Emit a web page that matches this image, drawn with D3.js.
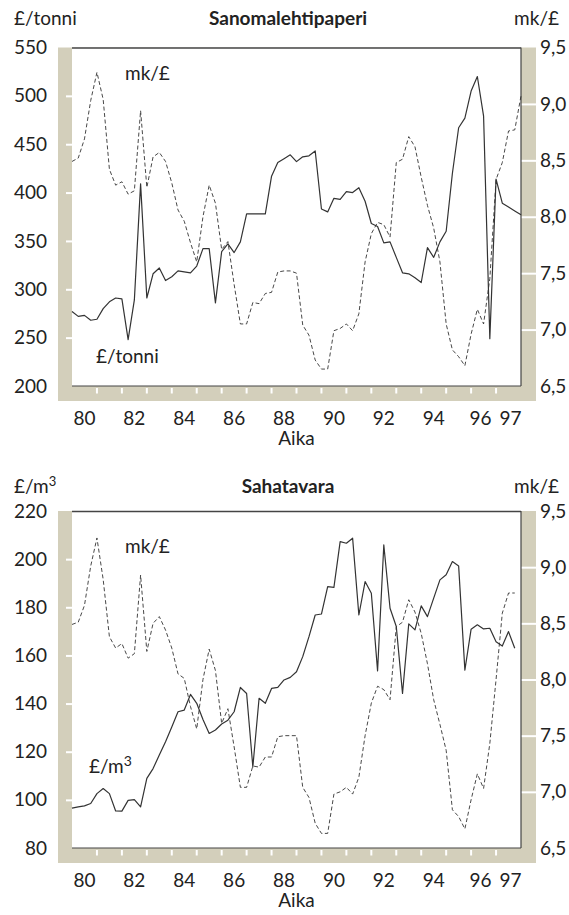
<!DOCTYPE html>
<html>
<head>
<meta charset="utf-8">
<script src="https://cdn.jsdelivr.net/npm/d3@7"></script>
<style>
body { margin: 0; background: #fff; }
svg text { font-family: Lato, "Open Sans", sans-serif; fill: #222; }
</style>
</head>
<body>
<svg id="chart" width="569" height="915"></svg>
<script>
// x tick labels (two-digit years)
var yearLabels = ["80", "82", "84", "86", "88", "90", "92", "94", "96", "97"];
var yearTicks = [1981, 1982, 1983, 1984, 1985, 1986, 1987, 1988, 1989, 1990, 1991, 1992, 1993, 1994, 1995, 1996, 1997];

var paperTicks = [200, 250, 300, 350, 400, 450, 500, 550];
var lumberTicks = [80, 100, 120, 140, 160, 180, 200, 220];
var rateTicks = [6.5, 7.0, 7.5, 8.0, 8.5, 9.0, 9.5];

// quarterly values, 1980 Q1 ->
var paperPrice = [277, 272, 273, 268, 269, 280, 287, 291, 290, 248,
    289, 409, 291, 316, 322, 309, 313, 319, 318, 317,
    324, 342, 342, 286, 339, 347, 338, 349, 378, 378,
    378, 378, 417, 431, 435, 439, 432, 437, 438, 443,
    383, 380, 394, 393, 401, 400, 405, 391, 368, 365,
    348, 349, 333, 317, 316, 312, 307, 343, 333, 349,
    360, 420, 467, 477, 505, 520, 479, 249, 414, 389,
    385, 381, 377];

var paperRate = [8.49, 8.52, 8.69, 9.03, 9.28, 9.04, 8.42, 8.28, 8.31, 8.20,
    8.23, 8.94, 8.26, 8.53, 8.57, 8.49, 8.30, 8.06, 7.96, 7.77,
    7.60, 8.00, 8.28, 8.12, 7.71, 7.78, 7.40, 7.05, 7.05, 7.24,
    7.23, 7.32, 7.33, 7.51, 7.52, 7.52, 7.50, 7.04, 6.95, 6.73,
    6.65, 6.65, 6.99, 7.01, 7.05, 6.99, 7.14, 7.60, 7.85, 7.95,
    7.93, 7.82, 8.48, 8.51, 8.71, 8.62, 8.35, 8.10, 7.90, 7.60,
    7.05, 6.82, 6.76, 6.68, 6.96, 7.18, 7.05, 7.45, 8.33, 8.48,
    8.76, 8.77, 9.07];

var lumberPrice = [96.6, 97.1, 97.5, 98.5, 102.6, 104.7, 102.6, 95.4, 95.3, 99.8,
    100.1, 97.1, 108.9, 113, 118.6, 124.1, 130.3, 136.6, 137.3, 143.8,
    140.1, 133.4, 127.6, 129, 131.5, 133.1, 136.6, 146.7, 144.2, 113.7,
    142.2, 140.1, 146.3, 146.7, 149.8, 150.9, 153.2, 159.5, 167.8, 176.8,
    177.2, 188.6, 188.3, 207.3, 206.6, 208.7, 176.8, 190.7, 185.8, 153.6,
    205.9, 179.6, 172, 144.2, 173.1, 170.6, 180.6, 176.1, 183.8, 191.4,
    193.5, 199, 197.2, 153.9, 170.9, 172.7, 171, 171.3, 165.7, 163.9,
    169.9, 163];

var lumberRate = [8.49, 8.51, 8.66, 9.01, 9.26, 8.89, 8.38, 8.28, 8.32, 8.19,
    8.23, 8.93, 8.25, 8.50, 8.56, 8.44, 8.28, 8.05, 8.01, 7.76,
    7.56, 8.00, 8.27, 8.08, 7.61, 7.74, 7.40, 7.04, 7.04, 7.23,
    7.22, 7.31, 7.31, 7.49, 7.50, 7.50, 7.50, 7.04, 6.95, 6.72,
    6.63, 6.63, 6.98, 7.00, 7.04, 6.98, 7.13, 7.50, 7.79, 7.94,
    7.91, 7.82, 8.47, 8.51, 8.71, 8.60, 8.41, 8.14, 7.82, 7.60,
    7.37, 6.84, 6.78, 6.67, 6.93, 7.16, 7.03, 7.43, 8.00, 8.59,
    8.77, 8.77];

var beige = "#d3cfbb";
var ink = "#333";
var fs = 19;
var frameLeft = 58, frameRight = 536;

var svg = d3.select("#chart");
var x = d3.scaleLinear().domain([1980, 1998]).range([72, 521]);
var comma = d3.formatLocale({decimal: ",", thousands: " ", grouping: [3], currency: ["", ""]}).format(".1f");
// the last two year labels sit a little apart in the original
var labelNudge = {"96": -3, "97": 2};

function drawPanel(p) {
    var y = d3.scaleLinear().domain(d3.extent(p.ticks)).range([p.bottom, p.top]);
    var y2 = d3.scaleLinear().domain([6.5, 9.5]).range([p.bottom, p.top]);
    var g = svg.append("g");

    // frame + plot area
    g.append("rect")
        .attr("x", frameLeft).attr("y", p.top)
        .attr("width", frameRight - frameLeft).attr("height", p.bottom + 15 - p.top)
        .attr("fill", beige);
    g.append("rect")
        .attr("x", x.range()[0]).attr("y", p.top)
        .attr("width", x.range()[1] - x.range()[0]).attr("height", p.bottom - p.top)
        .attr("fill", "#fff");

    // left axis
    var yAxis = d3.axisLeft(y).tickValues(p.ticks).tickSize(6).tickPadding(19).tickFormat(d3.format("d"));
    var ga = g.append("g").attr("transform", "translate(" + x.range()[0] + ",0)").call(yAxis);
    ga.select(".domain").remove();
    ga.selectAll(".tick line").attr("stroke", "#fff").attr("stroke-width", 2)
        .attr("display", function(d, i) { return (i == 0 || i == p.ticks.length - 1) ? "none" : null; });
    ga.selectAll(".tick text").attr("font-size", fs).attr("fill", "#222").attr("font-family", null);

    // right axis
    var yAxis2 = d3.axisRight(y2).tickValues(rateTicks).tickSize(15).tickPadding(4).tickFormat(comma);
    var gb = g.append("g").attr("transform", "translate(" + x.range()[1] + ",0)").call(yAxis2);
    gb.select(".domain").remove();
    gb.selectAll(".tick line").attr("stroke", "#fff").attr("stroke-width", 2)
        .attr("display", function(d, i) { return (i == 0 || i == rateTicks.length - 1) ? "none" : null; });
    gb.selectAll(".tick text").attr("font-size", fs).attr("fill", "#222").attr("font-family", null);

    // bottom ticks (white, inside frame)
    g.selectAll(".xt").data(yearTicks).join("line")
        .attr("x1", function(d) { return x(d); }).attr("x2", function(d) { return x(d); })
        .attr("y1", p.bottom + 2).attr("y2", p.bottom + 7.5)
        .attr("stroke", "#fff").attr("stroke-width", 2);

    g.selectAll(".xl").data(yearLabels).join("text")
        .attr("x", function(d) { return x(1900 + (+d) + 0.5) + (labelNudge[d] || 0); })
        .attr("y", p.bottom + 38.5)
        .attr("text-anchor", "middle").attr("font-size", fs)
        .text(function(d) { return d; });
    g.append("text").attr("x", x(1989)).attr("y", p.bottom + 59)
        .attr("text-anchor", "middle").attr("font-size", fs).text("Aika");

    // plot borders
    g.append("line").attr("x1", x.range()[0]).attr("x2", x.range()[1]).attr("y1", p.top + 0.5).attr("y2", p.top + 0.5)
        .attr("stroke", "#444").attr("stroke-width", 1.4);
    g.append("line").attr("x1", x.range()[1]).attr("x2", x.range()[1]).attr("y1", p.top).attr("y2", p.bottom)
        .attr("stroke", "#444").attr("stroke-width", 1.2);
    g.append("line").attr("x1", x.range()[0]).attr("x2", x.range()[1]).attr("y1", p.bottom).attr("y2", p.bottom)
        .attr("stroke", "#444").attr("stroke-width", 1.2);

    // series
    var line1 = d3.line()
        .x(function(d, i) { return x(1980 + i / 4); })
        .y(function(d) { return y(d); });
    var line2 = d3.line()
        .x(function(d, i) { return x(1980 + i / 4); })
        .y(function(d) { return y2(d); });
    g.append("path").datum(p.rate).attr("d", line2)
        .attr("fill", "none").attr("stroke", ink).attr("stroke-width", 0.9).attr("stroke-dasharray", "4,2.5");
    g.append("path").datum(p.price).attr("d", line1)
        .attr("fill", "none").attr("stroke", ink).attr("stroke-width", 1.2).attr("stroke-linejoin", "round");

    // headers
    var h1 = g.append("text").attr("x", 14).attr("y", p.headY).attr("font-size", fs);
    h1.append("tspan").text(p.unit);
    if (p.sup) h1.append("tspan").attr("dy", -7).attr("font-size", 13).text(p.sup);
    g.append("text").attr("x", 288).attr("y", p.headY).attr("text-anchor", "middle")
        .attr("font-size", 19).attr("font-weight", "bold").text(p.title);
    g.append("text").attr("x", 559).attr("y", p.headY).attr("text-anchor", "end")
        .attr("font-size", fs).text("mk/£");

    // in-plot labels
    g.append("text").attr("x", 125).attr("y", p.rateLabelY).attr("font-size", fs).text("mk/£");
    var l2 = g.append("text").attr("x", p.priceLabelX).attr("y", p.priceLabelY).attr("font-size", fs);
    l2.append("tspan").text(p.unit);
    if (p.sup) l2.append("tspan").attr("dy", -7).attr("font-size", 14).text(p.sup);
}

drawPanel({
    top: 47.5, bottom: 386, ticks: paperTicks,
    price: paperPrice, rate: paperRate,
    title: "Sanomalehtipaperi", unit: "£/tonni", sup: null, headY: 25,
    rateLabelY: 80, priceLabelX: 96, priceLabelY: 363
});
drawPanel({
    top: 511, bottom: 848, ticks: lumberTicks,
    price: lumberPrice, rate: lumberRate,
    title: "Sahatavara", unit: "£/m", sup: "3", headY: 493,
    rateLabelY: 553, priceLabelX: 89, priceLabelY: 773
});
</script>
</body>
</html>
